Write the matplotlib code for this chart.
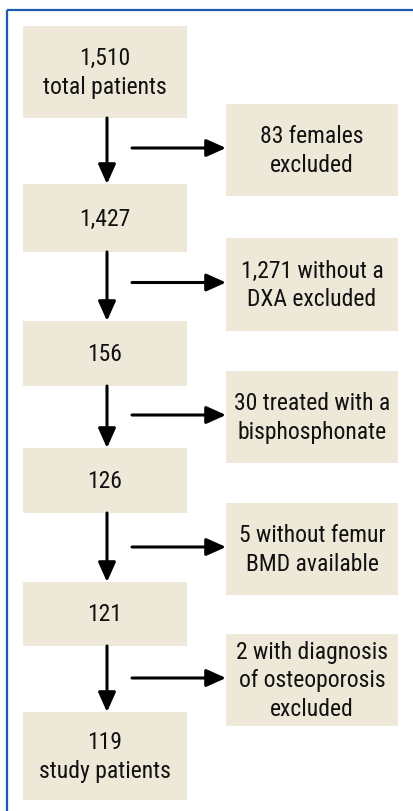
import matplotlib
matplotlib.use("Agg")
import matplotlib.pyplot as plt
from matplotlib.patches import Rectangle

# Flow data
main_labels = ["1,510\ntotal patients", "1,427", "156", "126", "121", "119\nstudy patients"]
excluded_labels = ["83 females\nexcluded",
                   "1,271 without a\nDXA excluded",
                   "30 treated with a\nbisphosphonate",
                   "5 without femur\nBMD available",
                   "2 with diagnosis\nof osteoporosis\nexcluded"]

# Layout (pixels)
main_x = (23, 187)
main_y = [(27, 119), (185, 253), (322, 387), (449, 514), (583, 647), (713, 801)]
side_x = (226, 398)
side_y = [(105, 197), (239, 332), (372, 464), (504, 596), (635, 727)]
arrow_x = 107
arrow_start_x = 132

W, H = 413, 812
fig = plt.figure(figsize=(W / 100, H / 100), dpi=100)
ax = fig.add_axes([0, 0, 1, 1])
ax.set_xlim(0, W)
ax.set_ylim(H, 0)
ax.axis("off")

fill = "#EDE8D7"
fam = ["Roboto Condensed", "DejaVu Sans"]
fs = 17
blue = "#1E5AAE"
tcol = "#111111"

# frame: top and left
ax.plot([7, W + 5], [11, 11], color=blue, lw=1.6, solid_capstyle="butt")
ax.plot([7, 7], [11, H + 5], color=blue, lw=1.6, solid_capstyle="butt")

for lab, (y0, y1) in zip(main_labels, main_y):
    ax.add_patch(Rectangle((main_x[0], y0), main_x[1] - main_x[0], y1 - y0,
                           facecolor=fill, edgecolor="none"))
    ax.text((main_x[0] + main_x[1]) / 2, (y0 + y1) / 2, lab, ha="center", va="center",
            fontsize=fs, family=fam, color=tcol, linespacing=1.32)

for lab, (y0, y1) in zip(excluded_labels, side_y):
    ax.add_patch(Rectangle((side_x[0], y0), side_x[1] - side_x[0], y1 - y0,
                           facecolor=fill, edgecolor="none"))
    ax.text((side_x[0] + side_x[1]) / 2, (y0 + y1) / 2, lab, ha="center", va="center",
            fontsize=fs, family=fam, color=tcol, linespacing=1.32)

style = "-|>,head_length=0.85,head_width=0.38"
for i in range(len(main_y) - 1):
    ax.annotate("", xy=(arrow_x, main_y[i + 1][0]), xytext=(arrow_x, main_y[i][1]),
                arrowprops=dict(arrowstyle=style, lw=2.2, color="black",
                                mutation_scale=14, shrinkA=0, shrinkB=0))
for (y0, y1) in side_y:
    yc = (y0 + y1) / 2 - 2
    ax.annotate("", xy=(side_x[0], yc), xytext=(arrow_start_x, yc),
                arrowprops=dict(arrowstyle=style, lw=2.2, color="black",
                                mutation_scale=14, shrinkA=0, shrinkB=0))

fig.savefig("out.png", dpi=100)
